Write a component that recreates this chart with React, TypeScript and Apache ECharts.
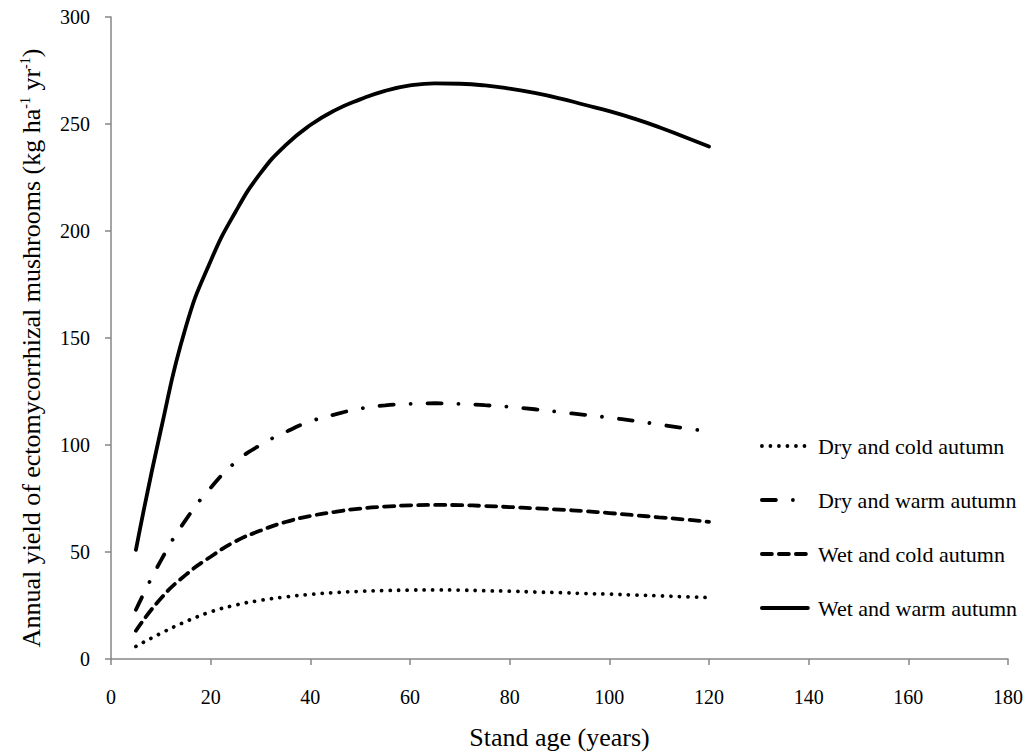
import React, { useEffect, useRef } from "react";
import * as echarts from "echarts";

const ages = [5, 10, 15, 20, 25, 30, 35, 40, 45, 50, 55, 60, 65, 70, 75, 80, 85, 90, 95, 100, 105, 110, 115, 120];

const dryCold = [5.9, 12, 17.5, 22, 25.2, 27.4, 29, 30.2, 31, 31.6, 32, 32.2, 32.3, 32.2, 31.9, 31.7, 31.3, 31, 30.6, 30.3, 29.9, 29.5, 29.1, 28.7];
const dryWarm = [23, 46, 65, 80, 92, 100, 106, 111, 114.3, 117, 118.5, 119.2, 119.5, 119.2, 118.6, 117.8, 116.7, 115.4, 114.1, 112.8, 111.3, 109.6, 107.9, 106.3];
const wetCold = [13.2, 28.3, 39.3, 47.8, 55, 60, 64, 66.8, 68.8, 70.3, 71.2, 71.8, 72, 71.9, 71.5, 71, 70.4, 69.8, 69.1, 68.2, 67.2, 66.2, 65.2, 64.1];
const wetWarm = [51, 107, 155, 186, 209, 227, 240, 249.5, 256.5, 261.5, 265.5, 268, 269, 268.8, 268, 266.5, 264.5, 262, 259, 256, 252.5, 248.5, 244, 239.5];

const seriesNames = [
  "Dry and cold autumn",
  "Dry and warm autumn",
  "Wet and cold autumn",
  "Wet and warm autumn",
];
const seriesValues = [dryCold, dryWarm, wetCold, wetWarm];
const dashTypes: any[] = [[0.01, 8.5], [14, 17, 0.01, 17], [10, 7], "solid"];

const xAxisTitle = "Stand age (years)";
const yAxisTitleParts = ["Annual yield of ectomycorrhizal mushrooms (kg ha", "-1", " yr", "-1", ")"];

const FONT = "Liberation Serif";

export default function App() {
  const ref = useRef<HTMLDivElement>(null);
  useEffect(() => {
    if (!ref.current) return;
    const chart = echarts.init(ref.current, undefined, { renderer: "svg" });
    const yName =
      "{n|" + yAxisTitleParts[0] + "}{s|" + yAxisTitleParts[1] + "}{n|" + yAxisTitleParts[2] + "}{s|" + yAxisTitleParts[3] + "}{n|" + yAxisTitleParts[4] + "}";
    chart.setOption({
      animation: false,
      backgroundColor: "#ffffff",
      textStyle: { fontFamily: FONT },
      grid: { left: 111, right: 22, top: 17, bottom: 94, containLabel: false },
      legend: {
        orient: "vertical",
        left: 755,
        top: 430,
        itemWidth: 46,
        itemHeight: 14,
        itemGap: 32,
        data: seriesNames,
        itemStyle: { opacity: 0 },
        lineStyle: { width: 3.8 },
        textStyle: { fontFamily: FONT, fontSize: 22, color: "#000", padding: [0, 0, 0, 5] },
      },
      xAxis: {
        type: "value",
        min: 0,
        max: 180,
        interval: 20,
        name: xAxisTitle,
        nameLocation: "middle",
        nameGap: 65,
        nameTextStyle: { fontFamily: FONT, fontSize: 26, color: "#000" },
        axisLine: { lineStyle: { color: "#868686", width: 1.5 } },
        axisTick: { show: true, length: 6, lineStyle: { color: "#868686", width: 1.5 } },
        axisLabel: { fontFamily: FONT, fontSize: 20, color: "#000", margin: 28 },
        splitLine: { show: false },
      },
      yAxis: {
        type: "value",
        min: 0,
        max: 300,
        interval: 50,
        name: yName,
        nameLocation: "middle",
        nameGap: 67,
        nameTextStyle: {
          fontFamily: FONT,
          fontSize: 26,
          color: "#000",
          padding: [0, 20, 0, 0],
          rich: {
            n: { fontFamily: FONT, fontSize: 26, color: "#000" },
            s: { fontFamily: FONT, fontSize: 14, color: "#000", verticalAlign: "top", padding: [0, 0, 10, 0] },
          },
        },
        axisLine: { show: true, lineStyle: { color: "#868686", width: 1.5 } },
        axisTick: { show: true, length: 6, lineStyle: { color: "#868686", width: 1.5 } },
        axisLabel: { fontFamily: FONT, fontSize: 20, color: "#000", margin: 21 },
        splitLine: { show: false },
      },
      series: seriesNames.map((name, i) => ({
        name,
        type: "line",
        smooth: 0.5,
        symbol: "none",
        data: ages.map((a, j) => [a, seriesValues[i][j]]),
        lineStyle: { color: "#000", width: 3.8, type: dashTypes[i], cap: "round" },
        itemStyle: { color: "#000" },
      })),
    });
    return () => chart.dispose();
  }, []);
  return <div ref={ref} style={{ position: "absolute", left: 0, top: 0, width: 1030, height: 755 }} />;
}
